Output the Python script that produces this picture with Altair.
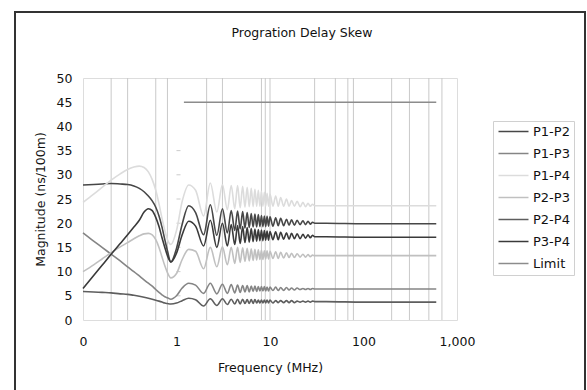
import altair as alt
import pandas as pd

# ---------------- data ----------------
FREQ = [0.1, 0.13, 0.16, 0.2, 0.25, 0.3, 0.35, 0.4, 0.45, 0.5, 0.55, 0.6, 0.65, 0.7, 0.75, 0.8, 0.87,
        1.0, 1.15,
        1.35, 1.6, 1.95, 2.3, 2.7, 3.1, 3.5, 3.85, 4.2, 4.5, 4.8, 5.1, 5.4, 5.7, 6.0, 6.3, 6.6, 6.9,
        7.2, 7.5, 7.8, 8.1, 8.4, 8.7, 9.0, 9.3, 9.65, 10, 10.75, 11.5, 12.25, 13, 14, 15, 16, 17,
        18.25, 19.5, 21, 22.5, 24, 25.5, 27, 28.5,
        30, 40, 100, 300, 600]

P1_P2 = [27.9, 28.0, 28.1, 28.2, 28.1, 28.0, 27.7, 27.2, 26.5, 25.6, 24.6, 23.3, 21.5, 19.2, 16.6, 14.3, 12.0,
         14.8, 19.8,
         23.6, 22.2, 17.6, 23.8, 17.5, 23.0, 18.0, 22.6, 18.5, 22.5, 18.8, 22.4, 19.0, 22.2, 19.1, 22.0, 19.2, 21.9,
         19.2, 21.8, 19.3, 21.6, 19.3, 21.5, 19.3, 21.4, 19.4, 21.3, 19.4, 21.1, 19.5, 21.0, 19.5, 20.8, 19.6, 20.7,
         19.6, 20.6, 19.7, 20.5, 19.7, 20.4, 19.8, 20.2,
         20.0, 20.0, 19.9, 19.9, 19.9]

P1_P3 = [18.0, 16.3, 15.0, 13.6, 12.2, 11.0, 10.0, 9.1, 8.3, 7.6, 7.0, 6.3, 5.7, 5.2, 4.8, 4.6, 4.3,
         5.0, 6.6,
         7.6, 7.2, 5.5, 7.6, 5.4, 7.4, 5.5, 7.3, 5.6, 7.2, 5.7, 7.1, 5.8, 7.1, 5.8, 7.0, 5.9, 7.0,
         5.9, 6.9, 6.0, 6.9, 6.0, 6.9, 6.0, 6.8, 6.0, 6.8, 6.1, 6.8, 6.1, 6.7, 6.1, 6.7, 6.2, 6.6,
         6.2, 6.6, 6.3, 6.5, 6.3, 6.5, 6.3, 6.5,
         6.4, 6.4, 6.4, 6.4, 6.4]

P1_P4 = [24.3, 26.0, 27.4, 28.9, 30.2, 31.1, 31.6, 31.8, 31.5, 30.6, 29.0, 26.8, 24.0, 21.0, 18.5, 16.6, 15.6,
         18.5, 24.5,
         27.9, 26.8, 21.5, 28.3, 22.3, 28.0, 22.8, 27.8, 23.0, 27.8, 23.2, 27.6, 23.3, 27.4, 23.4, 27.2, 23.4, 27.0,
         23.5, 26.8, 23.5, 26.6, 23.5, 26.4, 23.5, 26.2, 23.5, 26.0, 23.5, 25.6, 23.5, 25.3, 23.5, 25.0, 23.5, 24.7,
         23.5, 24.5, 23.4, 24.3, 23.4, 24.1, 23.5, 23.9,
         23.6, 23.6, 23.6, 23.6, 23.6]

P2_P3 = [10.0, 11.4, 12.6, 13.9, 15.1, 16.0, 16.8, 17.4, 17.8, 17.9, 17.6, 16.6, 15.0, 13.0, 11.2, 9.8, 8.7,
         9.6, 12.5,
         14.6, 14.2, 10.6, 15.0, 11.0, 15.1, 11.4, 15.0, 11.7, 15.0, 11.9, 14.9, 12.1, 14.8, 12.2, 14.7, 12.3, 14.6,
         12.4, 14.5, 12.5, 14.4, 12.5, 14.3, 12.6, 14.3, 12.6, 14.2, 12.7, 14.1, 12.7, 14.0, 12.8, 13.9, 12.9, 13.8,
         12.9, 13.7, 13.0, 13.6, 13.0, 13.5, 13.1, 13.4,
         13.3, 13.3, 13.3, 13.3, 13.3]

P2_P4 = [5.9, 5.8, 5.7, 5.6, 5.4, 5.3, 5.1, 4.9, 4.7, 4.5, 4.3, 4.1, 3.9, 3.7, 3.5, 3.4, 3.3,
         3.5, 4.0,
         4.5, 4.2, 2.9, 4.4, 3.0, 4.4, 3.2, 4.3, 3.3, 4.3, 3.3, 4.3, 3.4, 4.2, 3.4, 4.2, 3.4, 4.2,
         3.5, 4.1, 3.5, 4.1, 3.5, 4.1, 3.5, 4.1, 3.5, 4.1, 3.5, 4.0, 3.6, 4.0, 3.6, 4.0, 3.6, 4.0,
         3.6, 3.9, 3.7, 3.9, 3.7, 3.9, 3.7, 3.9,
         3.8, 3.8, 3.7, 3.7, 3.7]

P3_P4 = [6.5, 9.2, 11.3, 13.6, 15.8, 17.6, 19.2, 20.6, 22.3, 23.0, 22.6, 21.2, 19.3, 17.0, 15.0, 13.3, 12.0,
         13.8, 17.6,
         20.4, 19.4, 15.3, 20.6, 15.0, 20.0, 15.3, 19.7, 15.6, 19.5, 15.8, 19.3, 16.0, 19.1, 16.1, 18.9, 16.2, 18.8,
         16.3, 18.7, 16.4, 18.6, 16.4, 18.5, 16.5, 18.4, 16.5, 18.3, 16.6, 18.2, 16.6, 18.1, 16.7, 18.0, 16.7, 17.9,
         16.8, 17.8, 16.8, 17.7, 16.9, 17.6, 17.0, 17.5,
         17.2, 17.2, 17.1, 17.1, 17.1]

LIMIT_FREQ = [1.2, 600]
LIMIT_VALUE = [45, 45]

SERIES_NAMES = ["P1-P2", "P1-P3", "P1-P4", "P2-P3", "P2-P4", "P3-P4", "Limit"]
SERIES_COLORS = ["#474747", "#858585", "#dcdcdc", "#c0c0c0", "#5e5e5e", "#3a3a3a", "#8c8c8c"]

GRID_FREQ = [0.2, 0.3, 0.6, 0.8, 2.1, 3.1, 8.1, 8.9, 10, 30, 50, 68, 78, 200, 310, 500, 690]
MARK_FREQ = [1.05, 1.05, 1.05, 1.05, 1.05, 1.05, 1.05]
MARK_VALUE = [5, 10, 15, 20, 25, 30, 35]

X_TICKS = [0.1, 1, 10, 100, 1000]
Y_TICKS = [0, 5, 10, 15, 20, 25, 30, 35, 40, 45, 50]

# ---------------- tables ----------------
rows = []
for name, vals in zip(SERIES_NAMES[:6], [P1_P2, P1_P3, P1_P4, P2_P3, P2_P4, P3_P4]):
    for f, v in zip(FREQ, vals):
        rows.append({"series": name, "freq": f, "value": v})
for f, v in zip(LIMIT_FREQ, LIMIT_VALUE):
    rows.append({"series": "Limit", "freq": f, "value": v})
lines_df = pd.DataFrame(rows)
grid_df = pd.DataFrame({"freq": GRID_FREQ})
mark_df = pd.DataFrame({"freq": MARK_FREQ, "value": MARK_VALUE})

W, H = 374, 242
FONT = "DejaVu Sans"

x_scale = alt.Scale(type="log", domain=[0.1, 1000], nice=False)
y_scale = alt.Scale(domain=[0, 50], nice=False)

x_axis = alt.Axis(title="Frequency (MHz)", values=X_TICKS, grid=False, ticks=False, domain=False,
                  labelExpr="datum.value < 1 ? '0' : format(datum.value, ',')",
                  labelPadding=15, titlePadding=14, labelFont=FONT, titleFont=FONT,
                  labelFontSize=12.5, titleFontSize=12.5, titleFontWeight="normal",
                  labelColor="#111", titleColor="#111", labelFlush=False)
y_axis = alt.Axis(title="Magnitude (ns/100m)", values=Y_TICKS, grid=False, ticks=False, domain=False,
                  labelPadding=11, titlePadding=9, labelFont=FONT, titleFont=FONT,
                  labelFontSize=12.5, titleFontSize=12.5, titleFontWeight="normal",
                  labelColor="#111", titleColor="#111")

frame = alt.Chart(grid_df).mark_rect(fill=None, stroke="#333333", strokeWidth=1.5).encode(
    x=alt.value(-68), x2=alt.value(502), y=alt.value(-66), y2=alt.value(420)
)

grid = alt.Chart(grid_df).mark_rule(color="#c9c9c9", strokeWidth=1).encode(
    x=alt.X("freq:Q", scale=x_scale, axis=x_axis),
    y=alt.value(0), y2=alt.value(H),
)

marks = alt.Chart(mark_df).mark_tick(orient="horizontal", size=4, thickness=1, color="#b5b5b5").encode(
    x=alt.X("freq:Q", scale=x_scale, axis=x_axis),
    y=alt.Y("value:Q", scale=y_scale, axis=y_axis),
)

lines = alt.Chart(lines_df).mark_line(strokeWidth=1.6, interpolate="monotone").encode(
    x=alt.X("freq:Q", scale=x_scale, axis=x_axis),
    y=alt.Y("value:Q", scale=y_scale, axis=y_axis),
    color=alt.Color("series:N",
                    scale=alt.Scale(domain=SERIES_NAMES, range=SERIES_COLORS),
                    legend=alt.Legend(title=None, orient="none", legendX=410, legendY=43,
                                      symbolType="M-1,0H5", symbolSize=100, symbolStrokeWidth=1.5,
                                      labelFont=FONT, labelFontSize=13, labelColor="#111",
                                      rowPadding=8, padding=4, strokeColor="#d0d0d0",
                                      fillColor="white", labelOffset=23)),
    detail="series:N",
)

chart = alt.layer(frame, grid, marks, lines).properties(
    width=W, height=H,
    title=alt.TitleParams("Progration Delay Skew", font=FONT, fontSize=12.5, fontWeight="normal",
                          color="#111", anchor="middle", dx=32, offset=8, dy=36),
    padding={"left": 83, "top": 78, "right": 130, "bottom": 70},
    autosize=alt.AutoSizeParams(type="none"),
).configure_view(stroke="#a3a3a3", strokeWidth=1).configure(background="white")

chart.save("out.html", embed_options={"renderer": "svg", "actions": False})
